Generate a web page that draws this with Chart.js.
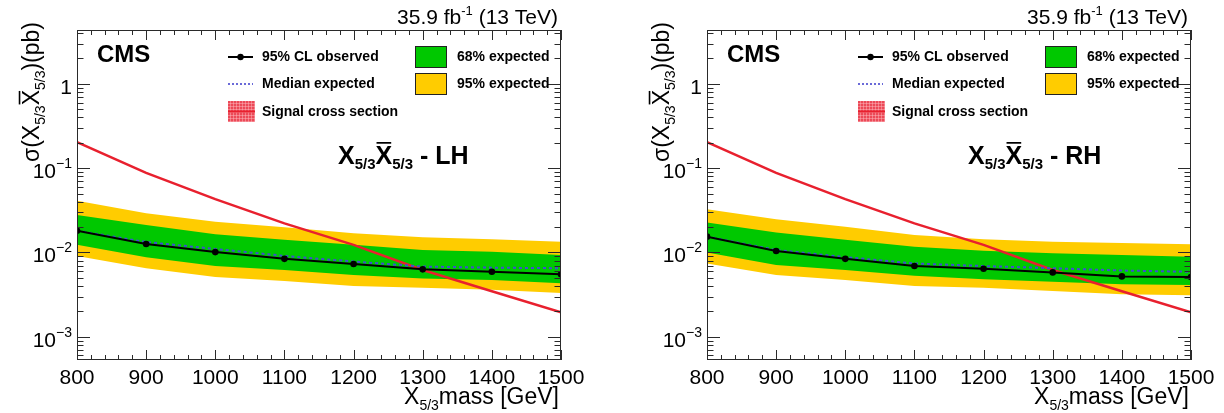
<!DOCTYPE html>
<html>
<head>
<meta charset="utf-8">
<script src="https://cdn.jsdelivr.net/npm/chart.js@4.4.0/dist/chart.umd.min.js"></script>
<style>
  html, body { margin: 0; padding: 0; background: #fff; }
  #wrap { position: relative; width: 1224px; height: 413px; overflow: hidden; }
  .panel { position: absolute; top: 0; width: 594px; height: 413px; }
</style>
</head>
<body>
<div id="wrap">
  <div class="panel" style="left:0"><canvas id="lh" width="594" height="413"></canvas></div>
  <div class="panel" style="left:630px"><canvas id="rh" width="594" height="413"></canvas></div>
</div>
<script>
// X5/3 mass points (GeV) and axis ticks
const masses = [800, 900, 1000, 1100, 1200, 1300, 1400, 1500];
const massTicks = [800, 900, 1000, 1100, 1200, 1300, 1400, 1500];
const decadeTicks = [1e-3, 1e-2, 1e-1, 1];
const decadeLabels = [['10', '\u22123'], ['10', '\u22122'], ['10', '\u22121'], ['1', '']];

// Theory pair-production cross section (pb), common to both chiralities
const signalXsec = [0.203, 0.0877, 0.0429, 0.0221, 0.0123, 0.0062, 0.00347, 0.00195];

// Left-handed limits (pb)
const lhObserved = [0.0181, 0.0126, 0.0101, 0.0084, 0.0073, 0.0063, 0.0059, 0.0055];
const lhMedian   = [0.0181, 0.0133, 0.0110, 0.0091, 0.0078, 0.0068, 0.0066, 0.0065];
const lhUp68     = [0.0279, 0.0212, 0.0164, 0.0141, 0.0123, 0.0107, 0.0102, 0.0093];
const lhDown68   = [0.0123, 0.0088, 0.0069, 0.0062, 0.0054, 0.0049, 0.0047, 0.0043];
const lhUp95     = [0.0411, 0.0292, 0.0232, 0.0199, 0.0169, 0.0151, 0.0143, 0.0134];
const lhDown95   = [0.0091, 0.0065, 0.0051, 0.0046, 0.0040, 0.0038, 0.0036, 0.0033];

// Right-handed limits (pb)
const rhObserved = [0.0154, 0.0104, 0.0084, 0.0069, 0.0064, 0.0058, 0.0052, 0.0051];
const rhMedian   = [0.0154, 0.0107, 0.0088, 0.0074, 0.0069, 0.0065, 0.0061, 0.0059];
const rhUp68     = [0.0226, 0.0172, 0.0141, 0.0117, 0.0105, 0.0098, 0.0093, 0.0089];
const rhDown68   = [0.0100, 0.0071, 0.0062, 0.0053, 0.0048, 0.0045, 0.0042, 0.0041];
const rhUp95     = [0.0325, 0.0248, 0.0202, 0.0161, 0.0143, 0.0134, 0.0129, 0.0125];
const rhDown95   = [0.0074, 0.0054, 0.0047, 0.0040, 0.0038, 0.0035, 0.0032, 0.0031];

const yMin = 5.3e-4;
const yMax = 4.35;

const FONT = '"Liberation Sans", Arial, Helvetica, sans-serif';
const GREEN = '#00c800';
const YELLOW = '#ffcc00';
const RED = '#e8202e';
const BLUE = '#3d4fd0';

function pts(values) {
  return masses.map((m, i) => ({ x: m, y: values[i] }));
}

// Draw a run of text pieces (normal / sub / sup) starting at x on baseline y.
function richWidth(ctx, parts, base, weight) {
  let w = 0;
  for (const p of parts) {
    ctx.font = `${weight} ${p.size || base}px ${FONT}`;
    w += ctx.measureText(p.t).width;
  }
  return w;
}
function drawRich(ctx, parts, x, y, base, weight, align) {
  const total = richWidth(ctx, parts, base, weight);
  let cx = align === 'right' ? x - total : (align === 'center' ? x - total / 2 : x);
  ctx.textBaseline = 'alphabetic';
  ctx.textAlign = 'left';
  for (const p of parts) {
    const size = p.size || base;
    ctx.font = `${weight} ${size}px ${FONT}`;
    const w = ctx.measureText(p.t).width;
    ctx.fillText(p.t, cx, y + (p.dy || 0));
    if (p.bar) {
      ctx.save();
      ctx.strokeStyle = ctx.fillStyle;
      ctx.lineWidth = size * 0.07;
      const by = y - size * 0.716 - size * 0.13;
      ctx.beginPath();
      ctx.moveTo(cx + size * 0.04, by);
      ctx.lineTo(cx + w - size * 0.04, by);
      ctx.stroke();
      ctx.restore();
    }
    cx += w;
  }
  return total;
}

// Frame with ticks pointing inward on all four sides, plus log tick labels.
const framePlugin = {
  id: 'frame',
  afterDraw(chart) {
    const { ctx, chartArea: a, scales } = chart;
    const xs = scales.x, ys = scales.y;
    ctx.save();
    ctx.strokeStyle = '#2a2a2a';
    ctx.lineWidth = 1;
    ctx.strokeRect(a.left + 0.5, a.top + 0.5, a.right - a.left - 1, a.bottom - a.top - 1);

    ctx.beginPath();
    for (let m = 800; m <= 1500; m += 20) {
      const px = Math.round(xs.getPixelForValue(m)) + 0.5;
      const len = (m % 100 === 0) ? 10 : 5;
      ctx.moveTo(px, a.bottom); ctx.lineTo(px, a.bottom - len);
      ctx.moveTo(px, a.top); ctx.lineTo(px, a.top + len);
    }
    for (let e = -4; e <= 0; e++) {
      for (let k = 1; k <= 9; k++) {
        const v = k * Math.pow(10, e);
        if (v < yMin || v > yMax) continue;
        const py = Math.round(ys.getPixelForValue(v)) + 0.5;
        const len = (k === 1) ? 13 : 6.5;
        ctx.moveTo(a.left, py); ctx.lineTo(a.left + len, py);
        ctx.moveTo(a.right, py); ctx.lineTo(a.right - len, py);
      }
    }
    ctx.stroke();

    ctx.fillStyle = '#000';
    decadeTicks.forEach((v, i) => {
      const py = ys.getPixelForValue(v);
      const [base, exp] = decadeLabels[i];
      const parts = [{ t: base }];
      if (exp) parts.push({ t: exp, size: 14, dy: -10 });
      drawRich(ctx, parts, a.left - 5, py + 10, 21, 'normal', 'right');
    });
    ctx.restore();
  }
};

// Labels, CMS tag, legend and axis titles.
function textPlugin(tag) {
  return {
    id: 'texts',
    afterDraw(chart) {
      const { ctx, chartArea: a } = chart;
      ctx.save();
      ctx.fillStyle = '#000';

      // luminosity label
      drawRich(ctx, [
        { t: '35.9 fb' }, { t: '-1', size: 13, dy: -9 }, { t: ' (13 TeV)' }
      ], a.right - 3, 24, 21, 'normal', 'right');

      // CMS
      ctx.font = `bold 24px ${FONT}`;
      ctx.textAlign = 'left';
      ctx.textBaseline = 'alphabetic';
      ctx.fillText('CMS', 97, 62);

      // legend, left column
      ctx.font = `bold 14px ${FONT}`;
      ctx.textBaseline = 'middle';
      ctx.strokeStyle = '#000';
      ctx.lineWidth = 2;
      ctx.beginPath(); ctx.moveTo(228, 57); ctx.lineTo(253, 57); ctx.stroke();
      ctx.beginPath(); ctx.arc(240.5, 57, 3.2, 0, Math.PI * 2); ctx.fill();
      ctx.fillText('95% CL observed', 262, 57);

      ctx.save();
      ctx.strokeStyle = '#6a6ad8';
      ctx.setLineDash([2, 2]);
      ctx.beginPath(); ctx.moveTo(228, 84); ctx.lineTo(253, 84); ctx.stroke();
      ctx.restore();
      ctx.fillText('Median expected', 262, 84);

      // hatched uncertainty box with the central red line
      ctx.save();
      ctx.fillStyle = '#ec4a58';
      ctx.fillRect(228, 101, 27, 21);
      ctx.strokeStyle = 'rgba(255, 190, 195, 0.45)';
      ctx.lineWidth = 1;
      ctx.beginPath();
      for (let hx = 230; hx < 255; hx += 3) { ctx.moveTo(hx + 0.5, 101); ctx.lineTo(hx + 0.5, 122); }
      for (let hy = 103; hy < 122; hy += 3) { ctx.moveTo(228, hy + 0.5); ctx.lineTo(255, hy + 0.5); }
      ctx.stroke();
      ctx.strokeStyle = RED;
      ctx.lineWidth = 2;
      ctx.beginPath(); ctx.moveTo(228, 111.5); ctx.lineTo(255, 111.5); ctx.stroke();
      ctx.restore();
      ctx.fillText('Signal cross section', 262, 112);

      // legend, right column
      ctx.lineWidth = 1;
      ctx.strokeStyle = '#222';
      ctx.fillStyle = GREEN;
      ctx.fillRect(415, 46, 32, 22);
      ctx.strokeRect(415.5, 46.5, 31, 21);
      ctx.fillStyle = YELLOW;
      ctx.fillRect(415, 73, 32, 22);
      ctx.strokeRect(415.5, 73.5, 31, 21);
      ctx.fillStyle = '#000';
      ctx.fillText('68% expected', 457, 57);
      ctx.fillText('95% expected', 457, 84);

      // process label
      drawRich(ctx, [
        { t: 'X' }, { t: '5/3', size: 15, dy: 5 },
        { t: 'X', bar: true }, { t: '5/3', size: 15, dy: 5 },
        { t: ' - ' + tag }
      ], 338, 164, 25, 'bold', 'left');

      // x-axis title
      drawRich(ctx, [
        { t: 'X' }, { t: '5/3', size: 14, dy: 6 }, { t: 'mass [GeV]' }
      ], a.right - 2, 404, 23, 'normal', 'right');

      // y-axis title
      ctx.save();
      ctx.translate(39, 22);
      ctx.rotate(-Math.PI / 2);
      drawRich(ctx, [
        { t: '\u03c3(X' }, { t: '5/3', size: 14, dy: 6 },
        { t: 'X', bar: true }, { t: '5/3', size: 14, dy: 6 },
        { t: ')(pb)' }
      ], 0, 0, 23, 'normal', 'right');
      ctx.restore();

      ctx.restore();
    }
  };
}

function makePanel(id, tag, d) {
  return new Chart(document.getElementById(id), {
    type: 'line',
    data: {
      datasets: [
        { label: '95% CL observed', data: pts(d.observed), borderColor: '#000', borderWidth: 2,
          pointRadius: 3.3, pointBackgroundColor: '#000', pointBorderWidth: 0, fill: false },
        { label: 'Median expected', data: pts(d.median), borderColor: BLUE, borderWidth: 2,
          borderDash: [3, 3], pointRadius: 0, fill: false },
        { label: 'Signal cross section', data: pts(signalXsec), borderColor: RED, borderWidth: 2.5,
          pointRadius: 0, fill: false },
        { label: '68% expected', data: pts(d.up68), borderColor: 'rgba(0,0,0,0)', borderWidth: 0,
          pointRadius: 0, backgroundColor: GREEN, fill: '+1' },
        { label: '68% expected (low)', data: pts(d.down68), borderColor: 'rgba(0,0,0,0)', borderWidth: 0,
          pointRadius: 0, fill: false },
        { label: '95% expected', data: pts(d.up95), borderColor: 'rgba(0,0,0,0)', borderWidth: 0,
          pointRadius: 0, backgroundColor: YELLOW, fill: '+1' },
        { label: '95% expected (low)', data: pts(d.down95), borderColor: 'rgba(0,0,0,0)', borderWidth: 0,
          pointRadius: 0, fill: false }
      ]
    },
    options: {
      responsive: false,
      animation: false,
      events: [],
      layout: { padding: { top: 30, right: 33, left: 0, bottom: 0 } },
      plugins: { legend: { display: false }, tooltip: { enabled: false } },
      scales: {
        x: {
          type: 'linear', min: 800, max: 1500,
          afterBuildTicks: s => { s.ticks = massTicks.map(v => ({ value: v })); },
          afterFit: s => { s.height = 53; },
          ticks: { font: { family: FONT, size: 21 }, color: '#000', padding: 6,
                   maxRotation: 0, autoSkip: false, callback: v => String(v) },
          grid: { display: false, drawTicks: false },
          border: { display: false }
        },
        y: {
          type: 'logarithmic', min: yMin, max: yMax,
          afterFit: s => { s.width = 77; },
          ticks: { display: false },
          grid: { display: false, drawTicks: false },
          border: { display: false }
        }
      }
    },
    plugins: [framePlugin, textPlugin(tag)]
  });
}

makePanel('lh', 'LH', {
  observed: lhObserved, median: lhMedian,
  up68: lhUp68, down68: lhDown68, up95: lhUp95, down95: lhDown95
});
makePanel('rh', 'RH', {
  observed: rhObserved, median: rhMedian,
  up68: rhUp68, down68: rhDown68, up95: rhUp95, down95: rhDown95
});
</script>
</body>
</html>
